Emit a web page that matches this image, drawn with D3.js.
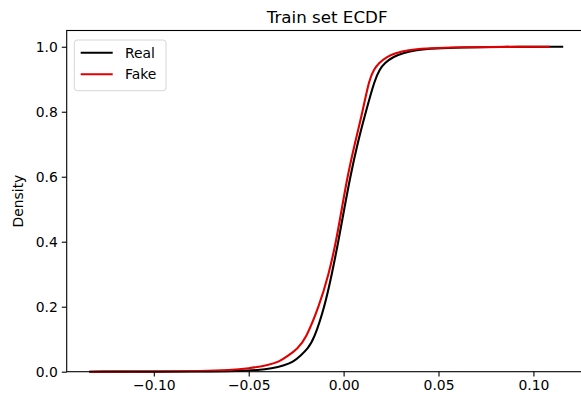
<!DOCTYPE html>
<html>
<head>
<meta charset="utf-8">
<script src="https://cdn.jsdelivr.net/npm/d3@7"></script>
<style>
  body { margin: 0; background: #fff; }
  svg { display: block; font-family: "DejaVu Sans", sans-serif; }
</style>
</head>
<body>
<div id="chart"></div>
<script>
// ECDF values (x value, cumulative share)
const realX = [-0.134, -0.075, -0.055, -0.045, -0.038, -0.031, -0.0265, -0.0226, -0.019, -0.0156, -0.010, -0.0062, -0.0028, 0.0003, 0.0035, 0.0072, 0.0117, 0.0165, 0.019, 0.0215, 0.0265, 0.031, 0.038, 0.048, 0.062, 0.08, 0.1157];
const realY = [0, 0.0005, 0.002, 0.005, 0.01, 0.02, 0.03, 0.05, 0.07, 0.10, 0.20, 0.30, 0.40, 0.50, 0.60, 0.70, 0.80, 0.90, 0.93, 0.95, 0.97, 0.98, 0.99, 0.995, 0.998, 0.9995, 1.0];
const fakeX = [-0.134, -0.095, -0.075, -0.060, -0.050, -0.040, -0.034, -0.029, -0.0245, -0.020, -0.013, -0.0078, -0.0040, -0.001, 0.002, 0.0058, 0.010, 0.0135, 0.016, 0.0185, 0.023, 0.027, 0.034, 0.043, 0.056, 0.075, 0.1086];
const fakeY = [0, 0.0007, 0.002, 0.005, 0.01, 0.02, 0.03, 0.05, 0.07, 0.10, 0.20, 0.30, 0.40, 0.50, 0.60, 0.70, 0.80, 0.90, 0.93, 0.95, 0.97, 0.98, 0.99, 0.995, 0.998, 0.9995, 1.0];

const xTicks = [-0.10, -0.05, 0.00, 0.05, 0.10];
const yTicks = [0.0, 0.2, 0.4, 0.6, 0.8, 1.0];

const width = 581, height = 397;
const margin = { left: 66.7, top: 30.5, bottom: 25.3 };
const plotRight = 587.5;

const svg = d3.select("#chart").append("svg")
    .attr("width", width)
    .attr("height", height);

const x = d3.scaleLinear()
    .domain([-0.1459, 0.1285])
    .range([margin.left, plotRight]);

const y = d3.scaleLinear()
    .domain([0, 1.05])
    .range([height - margin.bottom, margin.top]);

// lines
const line = d3.line()
    .x(d => x(d[0]))
    .y(d => y(d[1]))
    .curve(d3.curveBasis);

const series = [
    { name: "Real", color: "#000000", pts: d3.zip(realX, realY) },
    { name: "Fake", color: "#e00000", pts: d3.zip(fakeX, fakeY) }
];

series.forEach(s => {
    svg.append("path")
        .datum(s.pts)
        .attr("d", line)
        .attr("fill", "none")
        .attr("stroke", s.color)
        .attr("stroke-width", 2.1);
});

// axes
const xAxis = svg.append("g")
    .attr("transform", `translate(0,${y(0)})`)
    .call(d3.axisBottom(x).tickValues(xTicks).tickFormat(d3.format(".2f")).tickSizeOuter(0).tickSize(4.9).tickPadding(4));

const yAxis = svg.append("g")
    .attr("transform", `translate(${margin.left},0)`)
    .call(d3.axisLeft(y).tickValues(yTicks).tickFormat(d3.format(".1f")).tickSizeOuter(0).tickSize(4.9).tickPadding(4));

[xAxis, yAxis].forEach(g => {
    g.select(".domain").remove();
    g.selectAll("text").attr("font-size", 13.9).attr("fill", "#000").attr("font-family", "DejaVu Sans");
    g.selectAll("line").attr("stroke", "#000").attr("stroke-width", 1.1);
});
xAxis.selectAll("text").text(d => d3.format(".2f")(d).replace("-", "\u2212"));

// spines
svg.append("rect")
    .attr("x", margin.left)
    .attr("y", y(1.05))
    .attr("width", plotRight - margin.left)
    .attr("height", y(0) - y(1.05))
    .attr("fill", "none")
    .attr("stroke", "#000")
    .attr("stroke-width", 1.1);

// title & label
svg.append("text")
    .attr("x", (margin.left + plotRight) / 2)
    .attr("y", 23)
    .attr("text-anchor", "middle")
    .attr("font-size", 16.7)
    .text("Train set ECDF");

svg.append("text")
    .attr("transform", `translate(23,${(y(0) + y(1.05)) / 2}) rotate(-90)`)
    .attr("text-anchor", "middle")
    .attr("font-size", 13.9)
    .text("Density");

// legend
const legend = svg.append("g");
legend.append("rect")
    .attr("x", 74.3)
    .attr("y", 40)
    .attr("width", 91.7)
    .attr("height", 50.7)
    .attr("rx", 3)
    .attr("fill", "#fff")
    .attr("fill-opacity", 0.8)
    .attr("stroke", "#d6d6d6")
    .attr("stroke-width", 1);

series.forEach((s, i) => {
    const ly = 52.7 + i * 21.6;
    legend.append("line")
        .attr("x1", 80.7).attr("x2", 112.7)
        .attr("y1", ly).attr("y2", ly)
        .attr("stroke", s.color)
        .attr("stroke-width", 2.1);
    legend.append("text")
        .attr("x", 125)
        .attr("y", ly + 5)
        .attr("font-size", 13.9)
        .text(s.name);
});
</script>
</body>
</html>
